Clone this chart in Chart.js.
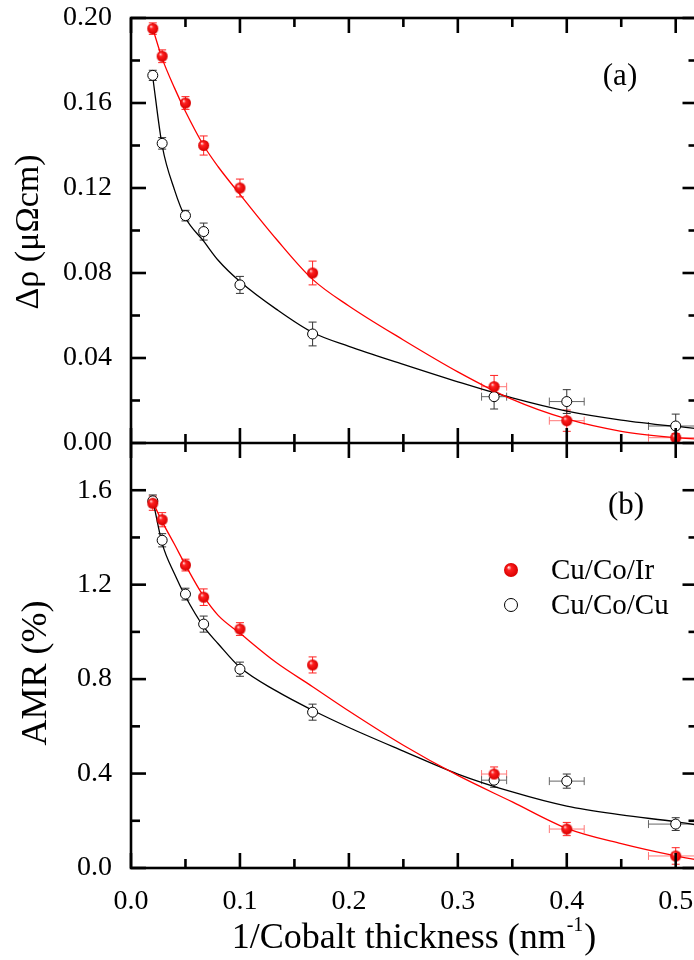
<!DOCTYPE html>
<html>
<head>
<meta charset="utf-8">
<script src="https://cdn.jsdelivr.net/npm/chart.js@4.4.1/dist/chart.umd.min.js"></script>
<style>
  html, body { margin: 0; padding: 0; background: #fff; overflow: hidden; }
  #wrap { width: 694px; height: 960px; overflow: hidden; }
</style>
</head>
<body>
<div id="wrap"><canvas id="chart" width="704" height="960"></canvas></div>
<script>
// 1/Co thickness (nm^-1) and its error
const invThickness = [0.02, 0.0286, 0.05, 0.0667, 0.1, 0.1667, 0.3333, 0.4, 0.5]
const xErr = [0, 0, 0, 0, 0, 0, 0.0115, 0.016, 0.025]

// (a) delta rho, uOhm cm
const rhoIr = [0.195, 0.182, 0.160, 0.140, 0.120, 0.080, 0.0265, 0.0105, 0.0025]
const rhoIrErr = [0.0027, 0.003, 0.003, 0.0045, 0.0042, 0.0056, 0.0053, 0.005, 0.002]
const rhoCu = [0.173, 0.141, 0.107, 0.0995, 0.0744, 0.0513, 0.0218, 0.0195, 0.008]
const rhoCuErr = [0.0024, 0.0027, 0.0025, 0.004, 0.004, 0.0056, 0.0058, 0.0056, 0.0056]

// (b) AMR, %
const amrIr = [1.545, 1.475, 1.283, 1.147, 1.012, 0.86, 0.398, 0.165, 0.051]
const amrIrErr = [0.03, 0.03, 0.025, 0.035, 0.027, 0.034, 0.03, 0.028, 0.035]
const amrCu = [1.555, 1.388, 1.16, 1.033, 0.842, 0.66, 0.372, 0.368, 0.186]
const amrCuErr = [0.025, 0.028, 0.025, 0.034, 0.03, 0.034, 0.03, 0.03, 0.027]

// fit curves
const fitX = [0.02, 0.0286, 0.04, 0.05, 0.0667, 0.08, 0.1, 0.1333, 0.1667, 0.2, 0.25, 0.3, 0.35, 0.4, 0.45, 0.5, 0.52]
const fitRhoIr = [0.195, 0.181, 0.167, 0.156, 0.140, 0.130, 0.117, 0.096, 0.077, 0.0645, 0.0485, 0.0335, 0.0205, 0.0113, 0.0055, 0.0025, 0.0018]
const fitRhoCu = [0.172, 0.140, 0.119, 0.106, 0.095, 0.086, 0.076, 0.063, 0.052, 0.0455, 0.037, 0.0288, 0.0212, 0.015, 0.0108, 0.0078, 0.0068]
const fitAmrIr = [1.55, 1.467, 1.37, 1.283, 1.15, 1.07, 0.994, 0.87, 0.768, 0.665, 0.52, 0.392, 0.28, 0.168, 0.103, 0.051, 0.034]
const fitAmrCu = [1.56, 1.375, 1.245, 1.15, 1.022, 0.95, 0.85, 0.75, 0.668, 0.595, 0.495, 0.398, 0.322, 0.262, 0.225, 0.196, 0.182]

// ticks
const xMajor = [0, 0.1, 0.2, 0.3, 0.4, 0.5]
const xMinor = [0.05, 0.15, 0.25, 0.35, 0.45]
const rhoTicks = [0, 0.04, 0.08, 0.12, 0.16, 0.2]
const rhoMinor = [0.02, 0.06, 0.1, 0.14, 0.18]
const amrTicks = [0, 0.4, 0.8, 1.2, 1.6]
const amrMinor = [0.2, 0.6, 1.0, 1.4]

const FONT = "'Liberation Serif', 'Times New Roman', serif"
const RED = '#ff0000'

function ball(r) {
  const c = document.createElement('canvas')
  c.width = c.height = 2 * r + 2
  const g = c.getContext('2d')
  const m = r + 1
  const grad = g.createRadialGradient(m - r * 0.35, m - r * 0.4, r * 0.05, m, m, r)
  grad.addColorStop(0, '#ffe0e0')
  grad.addColorStop(0.3, '#ff2020')
  grad.addColorStop(1, '#d80000')
  g.fillStyle = grad
  g.beginPath()
  g.arc(m, m, r, 0, Math.PI * 2)
  g.fill()
  return c
}
const redBall = ball(5.5)
const redBallBig = ball(7)

const pts = (xs, ys) => xs.map((x, i) => ({ x, y: ys[i] }))

const errorBars = [
  { scale: 'yTop', ys: rhoIr, err: rhoIrErr, color: '#ff2020', xColor: '#ff7878' },
  { scale: 'yTop', ys: rhoCu, err: rhoCuErr, color: '#333', xColor: '#666' },
  { scale: 'yBot', ys: amrIr, err: amrIrErr, color: '#ff2020', xColor: '#ff7878' },
  { scale: 'yBot', ys: amrCu, err: amrCuErr, color: '#333', xColor: '#666' },
]

function seg(ctx, x1, y1, x2, y2) {
  ctx.beginPath(); ctx.moveTo(x1, y1); ctx.lineTo(x2, y2); ctx.stroke()
}

const decor = {
  id: 'decor',
  beforeDatasetsDraw(chart) {
    const { ctx, chartArea: a, scales } = chart
    const sx = scales.x
    ctx.save()
    ctx.lineWidth = 1
    for (const e of errorBars) {
      const sy = scales[e.scale]
      ctx.save()
      ctx.beginPath(); ctx.rect(a.left, sy.top, a.right - a.left, sy.bottom - sy.top); ctx.clip()
      invThickness.forEach((xv, i) => {
        const px = sx.getPixelForValue(xv), py = sy.getPixelForValue(e.ys[i])
        const t = sy.getPixelForValue(e.ys[i] + e.err[i]), b = sy.getPixelForValue(e.ys[i] - e.err[i])
        ctx.strokeStyle = e.color
        seg(ctx, px, t, px, b); seg(ctx, px - 4, t, px + 4, t); seg(ctx, px - 4, b, px + 4, b)
        if (xErr[i] > 0) {
          const l = sx.getPixelForValue(xv - xErr[i]), r = sx.getPixelForValue(xv + xErr[i])
          ctx.strokeStyle = e.xColor
          seg(ctx, l, py, r, py); seg(ctx, l, py - 4, l, py + 4); seg(ctx, r, py - 4, r, py + 4)
        }
      })
      ctx.restore()
    }
    ctx.restore()
  },
  afterDraw(chart) {
    const { ctx, chartArea: a, scales } = chart
    const sx = scales.x, yt = scales.yTop, yb = scales.yBot
    const mid = yt.bottom
    ctx.save()
    ctx.strokeStyle = '#000'
    ctx.lineWidth = 2.6
    // frame + divider
    ctx.strokeRect(a.left, a.top, a.right - a.left, a.bottom - a.top)
    seg(ctx, a.left, mid, a.right, mid)
    // x ticks
    const xt = (vals, len) => vals.forEach(v => {
      const p = sx.getPixelForValue(v)
      seg(ctx, p, a.top, p, a.top + len)
      seg(ctx, p, mid - len, p, mid + len)
      seg(ctx, p, a.bottom, p, a.bottom - len)
    })
    xt(xMajor, 15); xt(xMinor, 9)
    // y ticks, inward on both sides
    const yTicks = (sc, vals, len) => vals.forEach(v => {
      const p = sc.getPixelForValue(v)
      seg(ctx, a.left, p, a.left + len, p)
      seg(ctx, a.right, p, a.right - len, p)
    })
    yTicks(yt, rhoTicks, 15); yTicks(yt, rhoMinor, 9)
    yTicks(yb, amrTicks, 15); yTicks(yb, amrMinor, 9)

    // texts
    ctx.fillStyle = '#000'
    ctx.textAlign = 'center'
    ctx.textBaseline = 'middle'
    ctx.save()
    ctx.translate(29, 232)
    ctx.rotate(-Math.PI / 2)
    ctx.font = '34px ' + FONT
    ctx.fillText('\u0394\u03c1 (\u03bc\u03a9cm)', 0, 0)
    ctx.restore()
    ctx.save()
    ctx.translate(37, 673)
    ctx.rotate(-Math.PI / 2)
    ctx.font = '36px ' + FONT
    ctx.fillText('AMR (%)', 0, 0)
    ctx.restore()

    // x title with superscript
    ctx.textAlign = 'left'
    ctx.textBaseline = 'alphabetic'
    const main = '1/Cobalt thickness (nm', sup = '-1', close = ')'
    ctx.font = '36px ' + FONT
    const w1 = ctx.measureText(main).width, w3 = ctx.measureText(close).width
    ctx.font = '20px ' + FONT
    const w2 = ctx.measureText(sup).width
    const tx = 413 - (w1 + w2 + w3) / 2
    const base = 948
    ctx.font = '36px ' + FONT
    ctx.fillText(main, tx, base)
    ctx.font = '20px ' + FONT
    ctx.fillText(sup, tx + w1 + 1, base - 17)
    ctx.font = '36px ' + FONT
    ctx.fillText(close, tx + w1 + w2 + 2, base)

    // panel labels
    ctx.textAlign = 'center'
    ctx.textBaseline = 'middle'
    ctx.font = '31px ' + FONT
    ctx.fillText('(a)', 620, 77)
    ctx.fillText('(b)', 626, 506)

    // legend
    ctx.drawImage(redBallBig, 511 - redBallBig.width / 2, 570 - redBallBig.height / 2)
    ctx.beginPath()
    ctx.arc(511, 605, 6.5, 0, Math.PI * 2)
    ctx.fillStyle = '#fff'; ctx.fill()
    ctx.lineWidth = 1; ctx.strokeStyle = '#000'; ctx.stroke()
    ctx.fillStyle = '#000'
    ctx.textAlign = 'left'
    ctx.font = '29px ' + FONT
    ctx.fillText('Cu/Co/Ir', 551, 571)
    ctx.fillText('Cu/Co/Cu', 551, 606)
    ctx.restore()
  }
}

const tickFont = { family: FONT, size: 28 }
const noPad = s => { s.paddingTop = 0; s.paddingBottom = 0; s.paddingLeft = 0; s.paddingRight = 0 }

new Chart(document.getElementById('chart'), {
  type: 'scatter',
  data: {
    datasets: [
      { label: 'Cu/Co/Ir', data: pts(invThickness, rhoIr), yAxisID: 'yTop', pointStyle: redBall, pointRadius: 5.5 },
      { label: 'Cu/Co/Cu', data: pts(invThickness, rhoCu), yAxisID: 'yTop', pointStyle: 'circle', pointRadius: 5, backgroundColor: '#fff', borderColor: '#000', borderWidth: 1 },
      { label: 'Cu/Co/Ir', data: pts(invThickness, amrIr), yAxisID: 'yBot', pointStyle: redBall, pointRadius: 5.5 },
      { label: 'Cu/Co/Cu', data: pts(invThickness, amrCu), yAxisID: 'yBot', pointStyle: 'circle', pointRadius: 5, backgroundColor: '#fff', borderColor: '#000', borderWidth: 1 },
      { label: 'fit Ir a', data: pts(fitX, fitRhoIr), yAxisID: 'yTop', showLine: true, pointRadius: 0, borderColor: RED, borderWidth: 1.3, cubicInterpolationMode: 'monotone' },
      { label: 'fit Cu a', data: pts(fitX, fitRhoCu), yAxisID: 'yTop', showLine: true, pointRadius: 0, borderColor: '#000', borderWidth: 1.3, cubicInterpolationMode: 'monotone' },
      { label: 'fit Ir b', data: pts(fitX, fitAmrIr), yAxisID: 'yBot', showLine: true, pointRadius: 0, borderColor: RED, borderWidth: 1.3, cubicInterpolationMode: 'monotone' },
      { label: 'fit Cu b', data: pts(fitX, fitAmrCu), yAxisID: 'yBot', showLine: true, pointRadius: 0, borderColor: '#000', borderWidth: 1.3, cubicInterpolationMode: 'monotone' },
    ]
  },
  options: {
    responsive: false,
    animation: false,
    devicePixelRatio: 1,
    layout: { padding: { top: 18, right: 4, left: 0, bottom: 0 } },
    plugins: { legend: { display: false }, tooltip: { enabled: false } },
    scales: {
      x: {
        type: 'linear', min: 0, max: 0.52,
        afterBuildTicks: s => { s.ticks = xMajor.map(v => ({ value: v })) },
        afterFit: s => { s.height = 92; noPad(s) },
        grid: { display: false, drawTicks: false },
        border: { display: false },
        ticks: { padding: 17, color: '#000', font: tickFont, maxRotation: 0, autoSkip: false, callback: v => v.toFixed(1) }
      },
      yBot: {
        type: 'linear', position: 'left', stack: 'panels', stackWeight: 1, min: 0, max: 1.8,
        afterBuildTicks: s => { s.ticks = amrTicks.map(v => ({ value: v })) },
        afterFit: s => { s.width = 131; noPad(s) },
        grid: { display: false, drawTicks: false },
        border: { display: false },
        ticks: { padding: 19, color: '#000', font: tickFont, autoSkip: false, callback: v => v.toFixed(1) }
      },
      yTop: {
        type: 'linear', position: 'left', stack: 'panels', stackWeight: 1, min: 0, max: 0.2,
        afterBuildTicks: s => { s.ticks = rhoTicks.map(v => ({ value: v })) },
        afterFit: s => { s.width = 131; noPad(s) },
        grid: { display: false, drawTicks: false },
        border: { display: false },
        ticks: { padding: 19, color: '#000', font: tickFont, autoSkip: false, callback: v => v.toFixed(2) }
      }
    }
  },
  plugins: [decor]
})
</script>
</body>
</html>
